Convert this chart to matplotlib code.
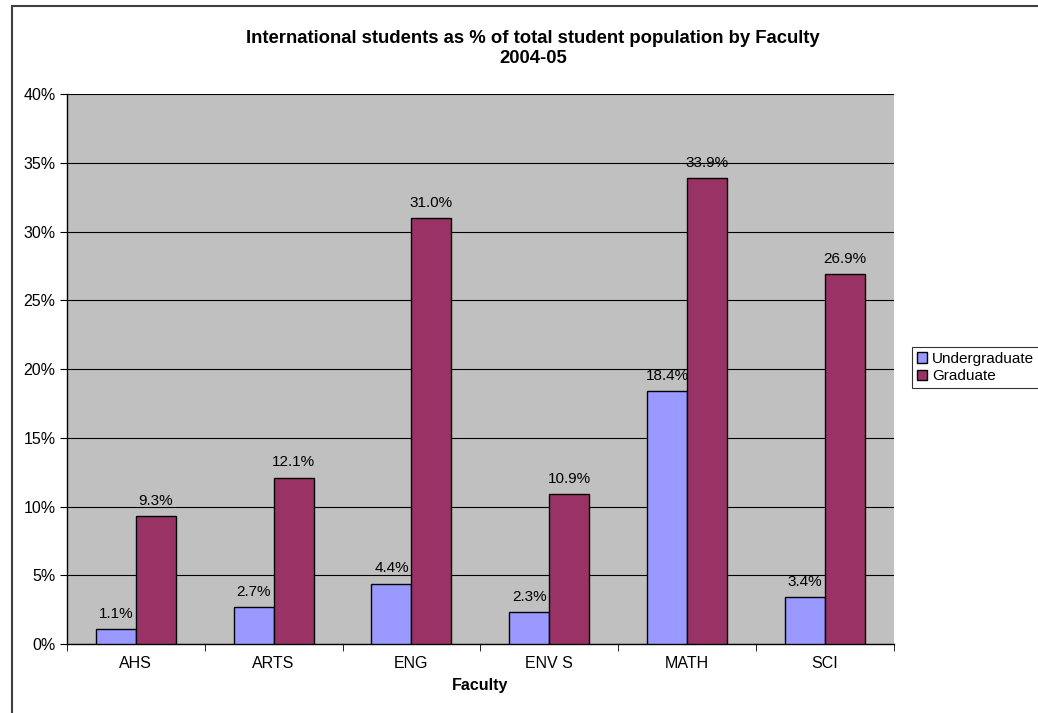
import numpy as np
import matplotlib.pyplot as plt
from matplotlib.patches import Rectangle
from matplotlib.ticker import FixedLocator, PercentFormatter

plt.rcParams['font.family'] = ['Liberation Sans', 'DejaVu Sans']

faculties = ['AHS', 'ARTS', 'ENG', 'ENV S', 'MATH', 'SCI']
undergrad = [1.1, 2.7, 4.4, 2.3, 18.4, 3.4]
graduate = [9.3, 12.1, 31.0, 10.9, 33.9, 26.9]
series_names = ['Undergraduate', 'Graduate']

fig = plt.figure(figsize=(10.38, 7.13), dpi=100)
ax = fig.add_axes([0.0643, 0.0968, 0.797, 0.771])

# outer chart frame (runs off the right/bottom edge like the original)
fig.patches.append(Rectangle((12/1038, -0.05), 1.2, 1 - 6/713 + 0.05,
                             transform=fig.transFigure, fill=False,
                             edgecolor='#404040', linewidth=1.5))

x = np.arange(len(faculties))
w = 0.29
b1 = ax.bar(x - w/2, undergrad, w, color='#9999FF', edgecolor='black',
            linewidth=1, label=series_names[0], zorder=3)
b2 = ax.bar(x + w/2, graduate, w, color='#993366', edgecolor='black',
            linewidth=1, label=series_names[1], zorder=3)

for bars, vals in [(b1, undergrad), (b2, graduate)]:
    for r, v in zip(bars, vals):
        ax.annotate(f'{v:.1f}%', (r.get_x() + r.get_width()/2, v),
                    xytext=(0, 6), textcoords='offset points',
                    ha='center', va='bottom', fontsize=11)

ax.set_facecolor('#C0C0C0')
ax.set_ylim(0, 40)
ax.set_xlim(-0.5, len(faculties) - 0.5)
ax.set_yticks(np.arange(0, 41, 5))
ax.yaxis.set_major_formatter(PercentFormatter(decimals=0))
ax.yaxis.grid(True, color='black', linewidth=0.8, zorder=1)
ax.set_axisbelow(True)

ax.set_xticks(x)
ax.set_xticklabels(faculties)
ax.xaxis.set_minor_locator(FixedLocator(np.arange(-0.5, len(faculties), 1)))
ax.tick_params(axis='x', which='major', length=0, pad=9, labelsize=11.5)
ax.tick_params(axis='x', which='minor', length=5, direction='out')
ax.tick_params(axis='y', length=5, direction='out', labelsize=11.5, pad=3)

for s in ['top', 'right']:
    ax.spines[s].set_visible(False)
ax.spines['left'].set_linewidth(1)
ax.spines['bottom'].set_linewidth(1)

ax.set_xlabel('Faculty', fontsize=11.5, fontweight='bold', labelpad=5)

title_lines = ['International students as % of total student population by Faculty',
               '2004-05']
fig.text(533/1038, 1 - 43/713, title_lines[0], ha='center', va='baseline',
         fontsize=13.3, fontweight='bold')
fig.text(533/1038, 1 - 63/713, title_lines[1], ha='center', va='baseline',
         fontsize=13.3, fontweight='bold')

leg = fig.legend(loc='upper left', bbox_to_anchor=(912/1038, 1 - 347/713),
                 fontsize=11, frameon=True, fancybox=False, edgecolor='black',
                 handlelength=0.7, handleheight=0.7, handletextpad=0.3,
                 borderpad=0.3, labelspacing=0.25, borderaxespad=0)
leg.get_frame().set_linewidth(0.8)

fig.savefig('out.png', dpi=100)
